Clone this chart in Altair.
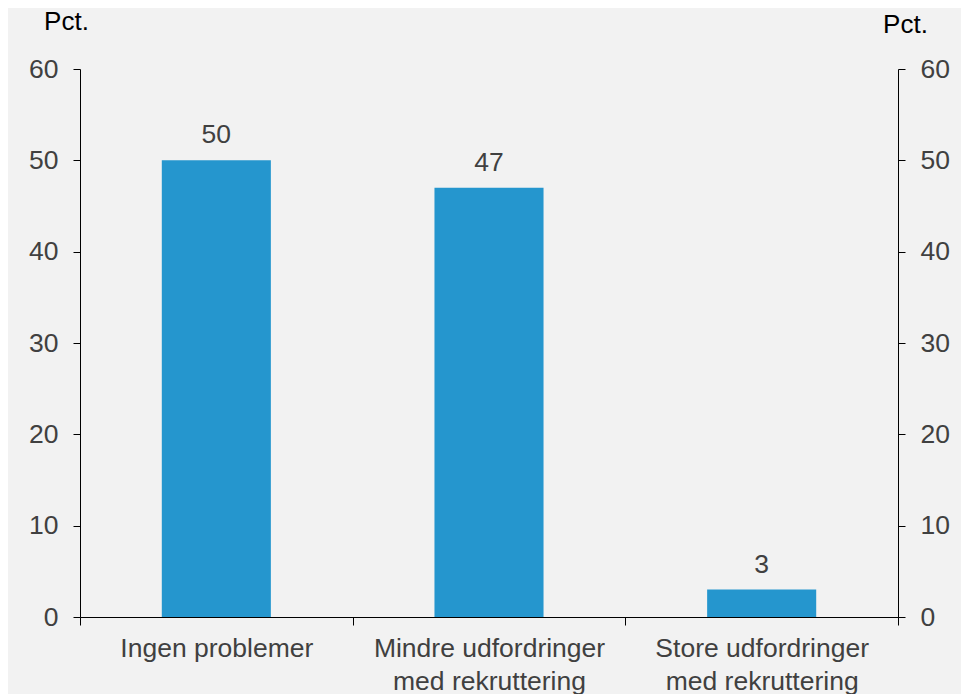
import altair as alt
import pandas as pd

categories = ["Ingen problemer", "Mindre udfordringer|med rekruttering", "Store udfordringer|med rekruttering"]
values = [50, 47, 3]
y_ticks = [0, 10, 20, 30, 40, 50, 60]

df = pd.DataFrame({"kategori": categories, "pct": values})

FONT = "Liberation Sans"
LABEL_COLOR = "#404040"
BAR_COLOR = "#2596ce"
FS = 26.5

x_enc = alt.X(
    "kategori:N",
    sort=None,
    scale=alt.Scale(paddingInner=0, paddingOuter=0),
    axis=alt.Axis(
        title=None,
        labelAngle=0,
        labelExpr="split(datum.label, '|')",
        labelLineHeight=33,
        labelFontSize=FS,
        labelFont=FONT,
        labelColor=LABEL_COLOR,
        labelPadding=10,
        labelLimit=500,
        tickBand="extent",
        tickSize=8,
        tickColor="black",
        domainColor="black",
        labelBaseline="top",
    ),
)

y_scale = alt.Scale(domain=[0, 60], nice=False)

bars = alt.Chart(df).mark_bar(
    color=BAR_COLOR, width=alt.RelativeBandSize(0.4)
).encode(
    x=x_enc,
    y=alt.Y(
        "pct:Q",
        scale=y_scale,
        axis=alt.Axis(
            values=y_ticks,
            grid=False,
            title="Pct.",
            titleAngle=0,
            titleAlign="center",
            titleBaseline="alphabetic",
            titleX=-14,
            titleY=-40,
            titleFont=FONT,
            titleFontSize=26,
            titleFontWeight="normal",
            titleColor="black",
            labelFont=FONT,
            labelFontSize=FS,
            labelColor=LABEL_COLOR,
            labelPadding=15,
            tickSize=7,
            tickColor="black",
            domainColor="black",
        ),
    ),
)

texts = alt.Chart(df).mark_text(
    baseline="alphabetic", dy=-17, font=FONT, fontSize=FS, color=LABEL_COLOR
).encode(
    x=alt.X("kategori:N", sort=None),
    y=alt.Y(
        "pct:Q",
        scale=y_scale,
        axis=alt.Axis(
            orient="right",
            values=y_ticks,
            grid=False,
            title="Pct.",
            titleAngle=0,
            titleAlign="center",
            titleBaseline="alphabetic",
            titleX=7,
            titleY=-37,
            titleFont=FONT,
            titleFontSize=26,
            titleFontWeight="normal",
            titleColor="black",
            labelFont=FONT,
            labelFontSize=FS,
            labelColor=LABEL_COLOR,
            labelPadding=15,
            tickSize=7,
            tickColor="black",
            domainColor="black",
        ),
    ),
    text=alt.Text("pct:Q"),
)

chart = alt.layer(bars, texts).resolve_axis(y="independent").properties(
    width=818,
    height=548,
    padding={"left": 72, "top": 61, "right": 63, "bottom": 77},
    autosize=alt.AutoSizeParams(type="none"),
    background="#f2f2f2",
).configure_view(stroke=None)

chart.save("out.html", embed_options={"renderer": "svg", "actions": False})
